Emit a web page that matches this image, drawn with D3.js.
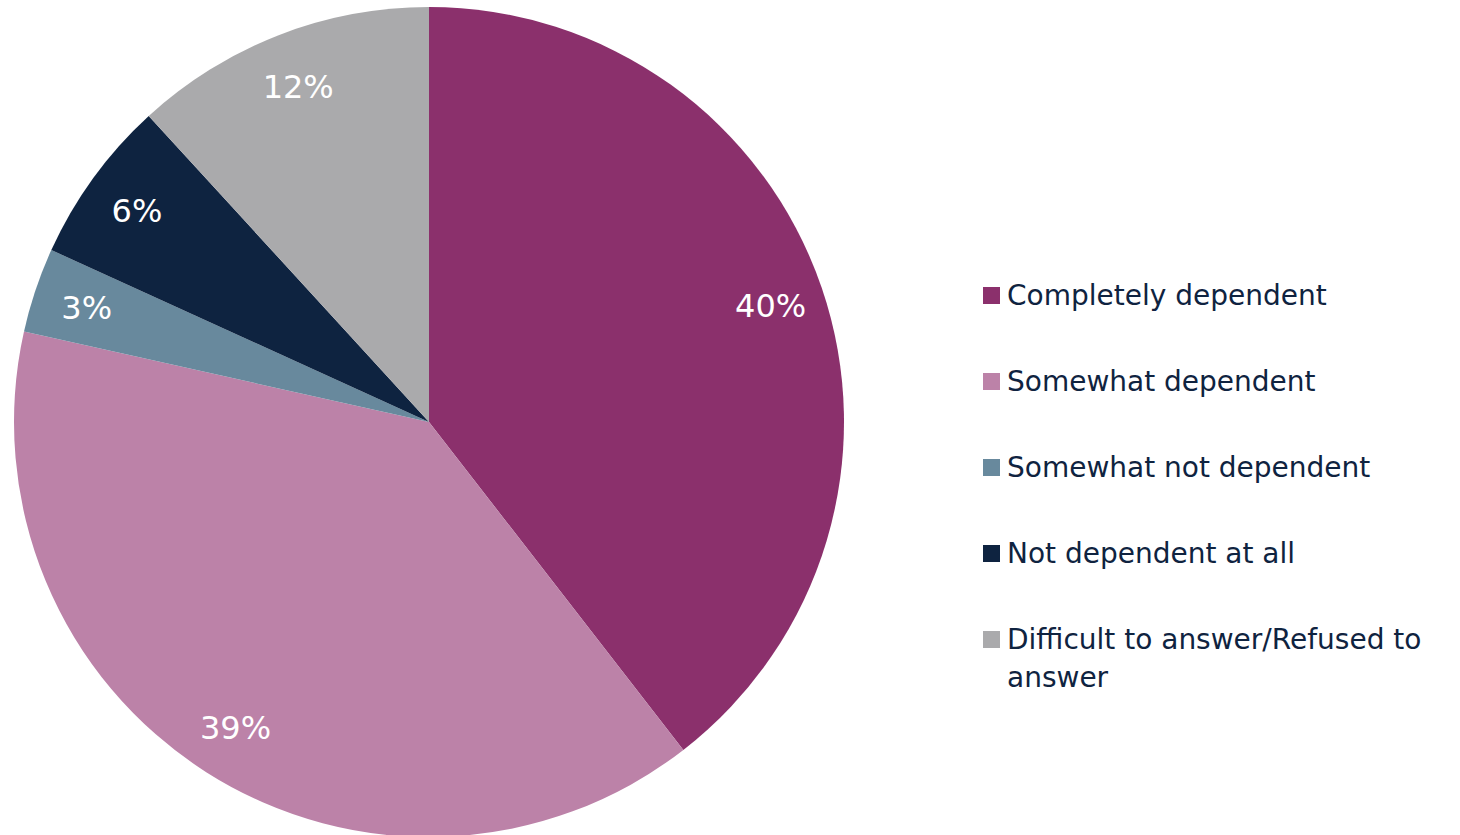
<!DOCTYPE html>
<html><head><meta charset="utf-8">
<script src="https://cdn.jsdelivr.net/npm/d3@7"></script>
<style>html,body{margin:0;padding:0;background:#fff;}svg{display:block;}</style>
</head><body>
<svg id="chart" width="1460" height="835"></svg>
<script>
const categories = ["Completely dependent","Somewhat dependent","Somewhat not dependent","Not dependent at all","Difficult to answer/Refused to answer"];
const values = [39.5, 39.0, 3.3, 6.4, 11.8];
const labels = ["40%","39%","3%","6%","12%"];
const colors = ["#8b306c","#bc82a8","#68899d","#0e2340","#aaaaac"];
const legendLines = [["Completely dependent"],["Somewhat dependent"],["Somewhat not dependent"],["Not dependent at all"],["Difficult to answer/Refused to","answer"]];

const svg = d3.select("#chart");
const cx = 429, cy = 422, r = 415;
const font = "'DejaVu Sans', Verdana, sans-serif";

const pie = d3.pie().sort(null).value(d => d)(values);
const arc = d3.arc().innerRadius(0).outerRadius(r);
const labelArc = d3.arc().innerRadius(r*0.87).outerRadius(r*0.87);

const g = svg.append("g").attr("transform", `translate(${cx},${cy})`);
g.selectAll("path").data(pie).join("path")
  .attr("d", arc).attr("fill", (d,i) => colors[i]);

g.selectAll("text").data(pie).join("text")
  .attr("transform", d => `translate(${labelArc.centroid(d)})`)
  .attr("text-anchor","middle").attr("dy","0.38em")
  .attr("fill","#fff").style("font-family",font).style("font-size","32px")
  .text((d,i) => labels[i]);

const lg = svg.append("g");
const y0 = 295, step = 86;
legendLines.forEach((lines,i) => {
  const y = y0 + i*step;
  lg.append("rect").attr("x",983).attr("y",y-8).attr("width",17).attr("height",17).attr("fill",colors[i]);
  const t = lg.append("text").attr("x",1007).attr("y",y)
    .attr("fill","#0f2340").style("font-family",font).style("font-size","28px");
  lines.forEach((l,j) => t.append("tspan").attr("x",1007).attr("dy", j===0 ? "0.36em" : "38px").text(l));
});
</script>
</body></html>
